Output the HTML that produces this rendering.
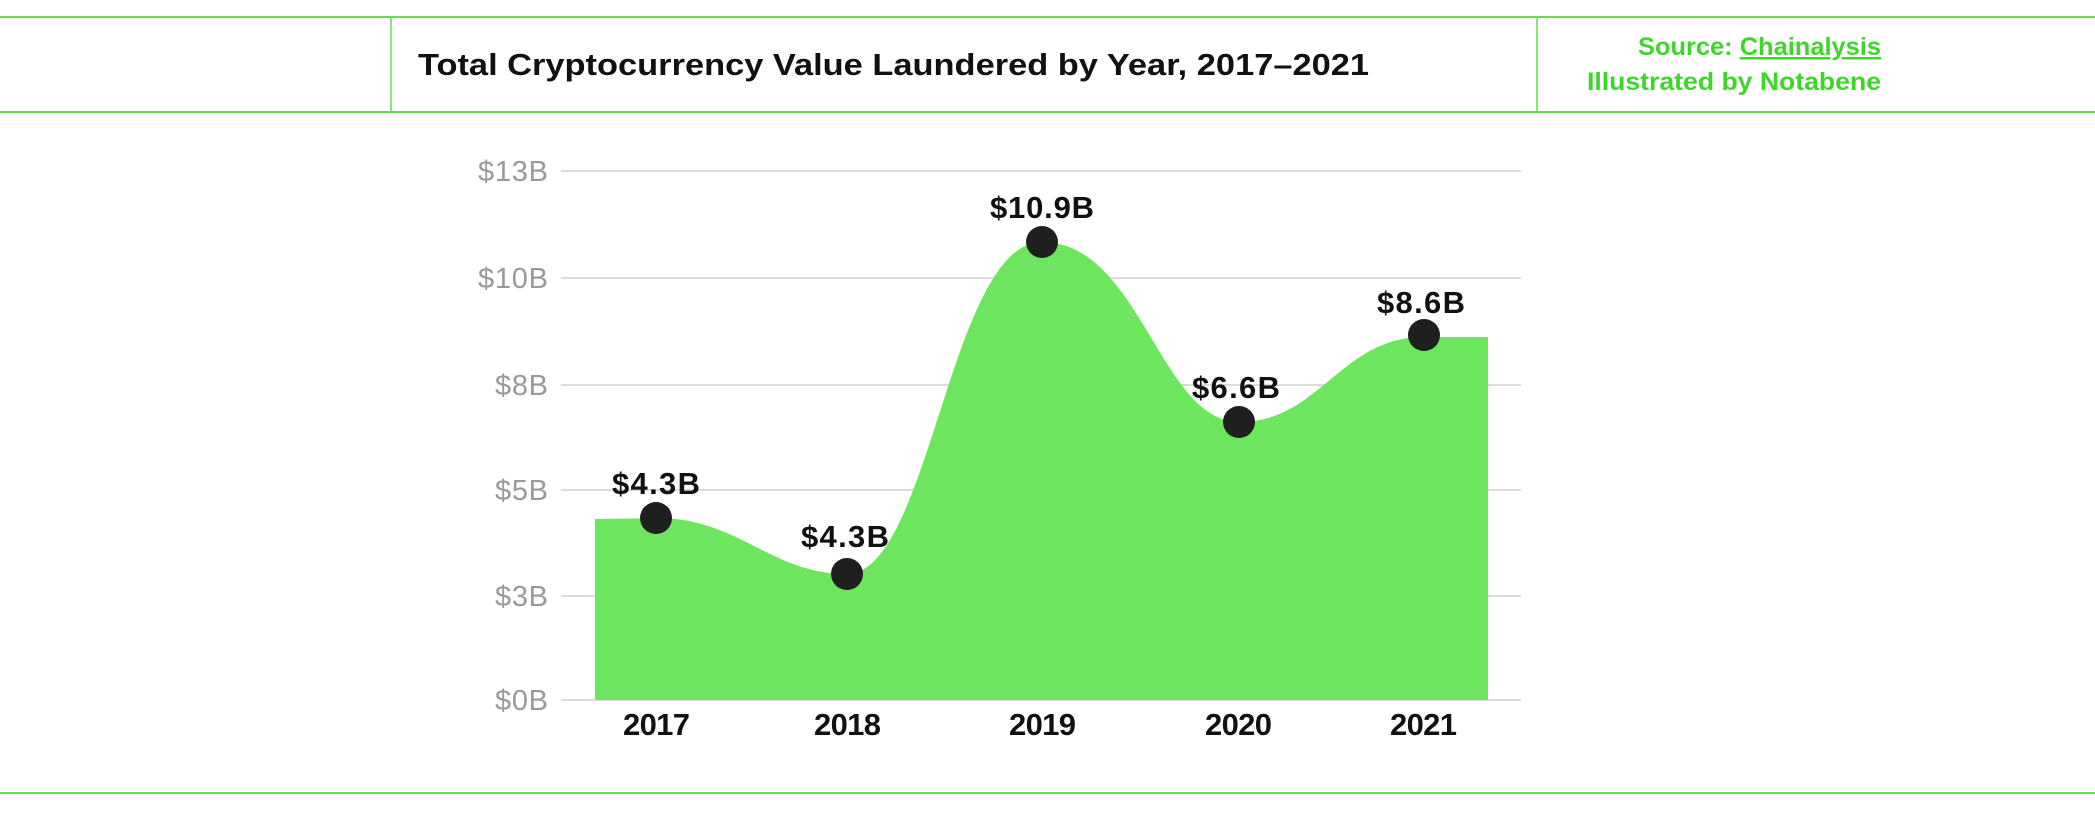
<!DOCTYPE html>
<html><head><style>
html,body{margin:0;padding:0;background:#fff;}
body{width:2095px;height:837px;overflow:hidden;position:relative;font-family:"Liberation Sans",sans-serif;}
</style></head><body>
<svg width="2095" height="837" viewBox="0 0 2095 837" xmlns="http://www.w3.org/2000/svg" style="position:absolute;left:0;top:0">
<line x1="0" y1="17" x2="2095" y2="17" stroke="#5ee04b" stroke-width="2"/>
<line x1="0" y1="112" x2="2095" y2="112" stroke="#5ee04b" stroke-width="2"/>
<line x1="0" y1="793" x2="2095" y2="793" stroke="#5ee04b" stroke-width="2"/>
<line x1="391" y1="17" x2="391" y2="112" stroke="#5ee04b" stroke-width="1.5"/>
<line x1="1537" y1="17" x2="1537" y2="112" stroke="#5ee04b" stroke-width="1.5"/>
<text x="418" y="75" font-family="Liberation Sans, sans-serif" font-weight="bold" font-size="31" fill="#111" textLength="951" lengthAdjust="spacingAndGlyphs">Total Cryptocurrency Value Laundered by Year, 2017–2021</text>
<text x="1638" y="55" font-family="Liberation Sans, sans-serif" font-weight="bold" font-size="25" fill="#3fd62b" textLength="243" lengthAdjust="spacingAndGlyphs">Source: <tspan text-decoration="underline">Chainalysis</tspan></text>
<text x="1587" y="90" font-family="Liberation Sans, sans-serif" font-weight="bold" font-size="25" fill="#3fd62b" textLength="294" lengthAdjust="spacingAndGlyphs">Illustrated by Notabene</text>
<g stroke="#d0d0d0" stroke-width="1.5">
<line x1="561" y1="171" x2="1521" y2="171"/>
<line x1="561" y1="278" x2="1521" y2="278"/>
<line x1="561" y1="385" x2="1521" y2="385"/>
<line x1="561" y1="490" x2="1521" y2="490"/>
<line x1="561" y1="596" x2="1521" y2="596"/>
<line x1="561" y1="700" x2="1521" y2="700"/>
</g>
<g font-family="Liberation Sans, sans-serif" font-size="29" fill="#999" lengthAdjust="spacingAndGlyphs">
<text x="478" y="181" textLength="70">$13B</text>
<text x="478" y="288" textLength="70">$10B</text>
<text x="495" y="395" textLength="53">$8B</text>
<text x="495" y="500" textLength="53">$5B</text>
<text x="495" y="606" textLength="53">$3B</text>
<text x="495" y="710" textLength="53">$0B</text>
</g>
<path d="M595,700 L595,519 L656,518 C740,518 770,574 847,574 C930,574 950,242 1042,242 C1140,242 1160,422 1239,422 C1320,422 1340,337 1424,337 L1488,337 L1488,700 Z" fill="#6ee55f"/>
<g fill="#1f1f1f">
<circle cx="656" cy="518" r="16"/>
<circle cx="847" cy="574" r="16"/>
<circle cx="1042" cy="242" r="16"/>
<circle cx="1239" cy="422" r="16"/>
<circle cx="1424" cy="335" r="16"/>
</g>
<g font-family="Liberation Sans, sans-serif" font-weight="bold" font-size="31" fill="#111" lengthAdjust="spacingAndGlyphs">
<text x="612" y="494" textLength="88">$4.3B</text>
<text x="801" y="547" textLength="88">$4.3B</text>
<text x="990" y="218" textLength="104">$10.9B</text>
<text x="1192" y="398" textLength="88">$6.6B</text>
<text x="1377" y="313" textLength="88">$8.6B</text>
<text x="623" y="735" textLength="67">2017</text>
<text x="814" y="735" textLength="67">2018</text>
<text x="1009" y="735" textLength="67">2019</text>
<text x="1205" y="735" textLength="67">2020</text>
<text x="1390" y="735" textLength="67">2021</text>
</g>
</svg>
</body></html>
